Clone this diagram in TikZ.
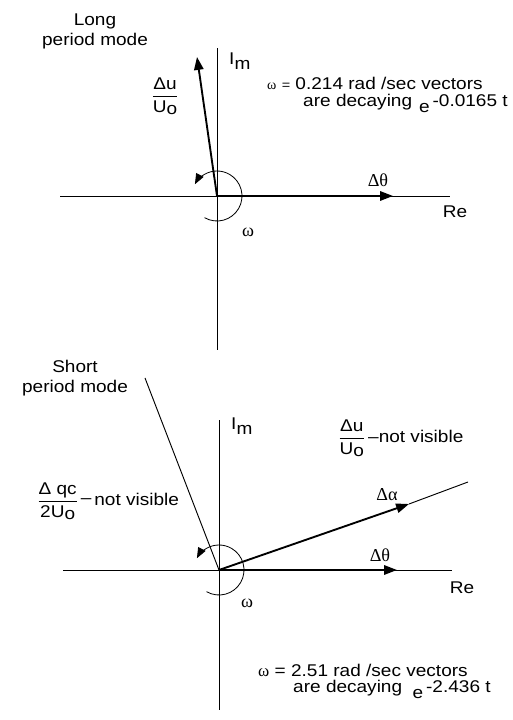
\documentclass[tikz,border=0pt]{standalone}
\usepackage{amsmath}
\usepackage{fontspec}
\setmainfont{Liberation Sans}[FakeStretch=1.12]
\newfontfamily\grk{Liberation Serif}
\usetikzlibrary{arrows.meta}

\newcommand{\imlbl}{I\raisebox{-4pt}{m}}
\newcommand{\uolbl}{U\raisebox{-2pt}{o}}

\begin{document}
\begin{tikzpicture}[
    x=0.03cm, y=0.03cm,
    lbl/.style={inner sep=0pt, font=\fontsize{14.5}{17}\selectfont},
    grklbl/.style={inner sep=0pt, font=\grk\fontsize{15.5}{17}\selectfont},
    axisline/.style={line width=0.7pt},
    vecarrow/.style={line width=1.6pt, -{Triangle[length=11pt, width=8pt]}},
    thinline/.style={line width=0.8pt},
    arcarrow/.style={line width=0.7pt, -{Triangle[length=9pt, width=7pt]}}
]
\useasboundingbox (0,0) rectangle (513,720);

% Long period mode
\coordinate (O1) at (217,524);
\coordinate (imtop1) at (217,672);
\coordinate (imbot1) at (217,370);
\coordinate (releft1) at (60,524);
\coordinate (reright1) at (450,524);
\coordinate (th1) at (393,524);
\coordinate (du1) at (197,663);

\draw[axisline] (imbot1) -- (imtop1);
\draw[axisline] (releft1) -- (reright1);
\draw[vecarrow] (O1) -- (th1);
\draw[vecarrow] (O1) -- (du1);
\draw[arcarrow] (O1) ++(-120:25) arc[start angle=-120, end angle=152, radius=25];

\node[lbl, align=center] (long) at (95,689) {Long\\period mode};
\node[lbl, anchor=base west] (im1) at (229,655) {\imlbl};
\node[lbl] (du1lbl) at (165,624) {$\dfrac{\text{Δu}}{\text{\uolbl}}$};
\node[grklbl] (th1lbl) at (378,540) {Δθ};
\node[lbl] (re1) at (455,508) {Re};
\node[grklbl] (om1) at (248,488) {ω};
\node[lbl, anchor=base west] (txt1a) at (267,630) {{\grk\fontsize{12}{12}\selectfont ω} {\fontsize{11}{11}\selectfont =} 0.214 rad /sec vectors};
\node[lbl, anchor=base west] (txt1b) at (303,613) {are decaying\hspace{6pt}\raisebox{-4.5pt}{e}\,-0.0165 t};

% Short period mode
\coordinate (O2) at (219,150);
\coordinate (imtop2) at (219,300);
\coordinate (imbot2) at (219,10);
\coordinate (releft2) at (63,150);
\coordinate (reright2) at (452,150);
\coordinate (th2) at (397,150);
\coordinate (al2) at (409,216);
\coordinate (alend2) at (468,238);
\coordinate (short2) at (145,342);

\draw[axisline] (imbot2) -- (imtop2);
\draw[axisline] (releft2) -- (reright2);
\draw[vecarrow] (O2) -- (th2);
\draw[vecarrow] (O2) -- (al2);
\draw[thinline] (al2) -- (alend2);
\draw[thinline] (O2) -- (short2);
\draw[arcarrow] (O2) ++(-120:25) arc[start angle=-120, end angle=152, radius=25];

\node[lbl, align=center] (short) at (75,342) {Short\\period mode};
\node[lbl, anchor=base west] (im2) at (231,290) {\imlbl};
\node[lbl, anchor=base west] (du2lbl) at (338,277) {$\dfrac{\text{Δu}}{\text{\uolbl}}$\,–not visible};
\node[lbl, anchor=base west] (dq2lbl) at (37,214) {$\dfrac{\text{Δ qc}}{\text{2\uolbl}}$\,\raisebox{2.5pt}{–}\,not visible};
\node[grklbl] (th2lbl) at (380,165) {Δθ};
\node[grklbl] (al2lbl) at (387,225) {Δα};
\node[lbl] (re2) at (462,132) {Re};
\node[grklbl] (om2) at (247,117) {ω};
\node[lbl, anchor=base west] (txt2a) at (258,43) {{\grk ω} = 2.51 rad /sec vectors};
\node[lbl, anchor=base west] (txt2b) at (293,27) {are decaying\hspace{9pt}\raisebox{-4.5pt}{e}\,-2.436 t};

\end{tikzpicture}
\end{document}
